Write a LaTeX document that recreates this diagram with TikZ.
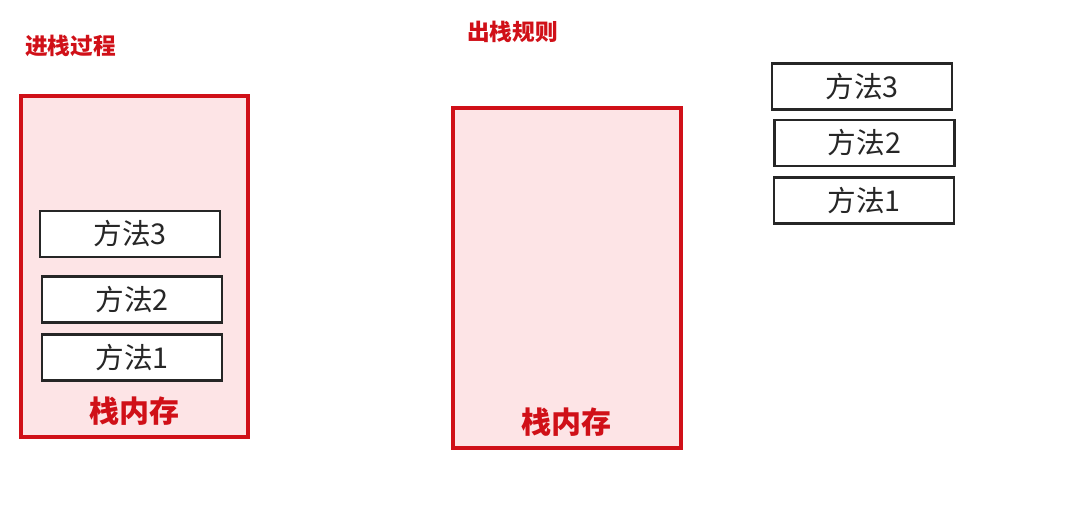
\documentclass[tikz,border=0pt]{standalone}
\usepackage{fontspec}
\newfontfamily\cjk{Noto Sans CJK SC}
\definecolor{stackred}{RGB}{208,16,24}
\definecolor{stackpink}{RGB}{253,228,230}
\tikzset{
  stackbox/.style={draw=stackred,fill=stackpink,line width=2.6pt},
  methodbox/.style={draw=black!85,fill=white,line width=1.8pt,minimum width=135pt,minimum height=34.5pt,inner sep=0pt,text=black!85,font=\cjk\fontsize{21.5}{21.5}\selectfont},
  stacklabel/.style={text=stackred,inner sep=0pt,font=\cjk\bfseries\fontsize{22.5}{22.5}\selectfont},
  titletext/.style={text=stackred,inner sep=0pt,anchor=west,font=\cjk\bfseries\fontsize{17}{17}\selectfont}
}
\begin{document}
\begin{tikzpicture}[x=0.75pt,y=0.75pt,yscale=-1,xscale=1]
    \path[use as bounding box] (0,0) rectangle (1087,517);
    % Push side
    \node[titletext] (pushtitle) at (25,46) {进栈过程};
    \draw[stackbox] (21,96) rectangle (248,437);
    \node[methodbox] (pushm3) at (130,234) {方法3};
    \node[methodbox] (pushm2) at (132,299.5) {方法2};
    \node[methodbox] (pushm1) at (132,357.5) {方法1};
    \node[stacklabel] (pushmem) at (134,411) {栈内存};
    % Pop side
    \node[titletext] (poptitle) at (467,32) {出栈规则};
    \draw[stackbox] (453,108) rectangle (681,448);
    \node[stacklabel] (popmem) at (566,422) {栈内存};
    \node[methodbox] (popm3) at (862,86.5) {方法3};
    \node[methodbox] (popm2) at (864.5,143) {方法2};
    \node[methodbox] (popm1) at (864,200.5) {方法1};
\end{tikzpicture}
\end{document}
